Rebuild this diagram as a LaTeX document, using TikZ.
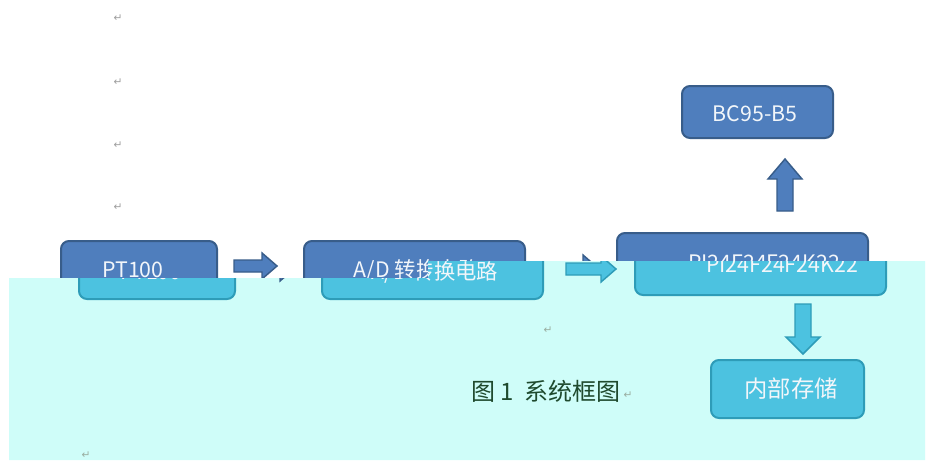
\documentclass[tikz,border=0pt]{standalone}
\usepackage{fontspec}
\setmainfont{Noto Sans CJK SC}
\newfontfamily\symf{DejaVu Sans}
\usetikzlibrary{calc}
\definecolor{ublue}{HTML}{4F7EBD}
\definecolor{ubord}{HTML}{385D8A}
\definecolor{lcyan}{HTML}{4CC2E0}
\definecolor{lbord}{HTML}{2E9CB8}
\definecolor{bgcyan}{HTML}{CFFDF9}
\definecolor{captc}{HTML}{1F4A2E}
\definecolor{txtw}{HTML}{F2F6FA}
\tikzset{
  ubox/.style={draw=ubord, fill=ublue, line width=1.5pt, rounded corners=6pt, inner sep=0pt},
  lbox/.style={draw=lbord, fill=lcyan, line width=1.5pt, rounded corners=6pt, inner sep=0pt},
  btxt/.style={text=txtw, font=\fontsize{16}{18}\selectfont, inner sep=0pt},
  bigtxt/.style={text=txtw, font=\fontsize{17.5}{20}\selectfont, inner sep=0pt},
  captxt/.style={text=captc, font=\fontsize{18}{20}\selectfont, inner sep=0pt},
  uarr/.style={draw=ubord, fill=ublue, line width=1.1pt, line join=miter},
  larr/.style={draw=lbord, fill=lcyan, line width=1.1pt, line join=miter},
  retmark/.style={text=gray!75, font=\symf\fontsize{8}{8}\selectfont, inner sep=0pt},
  retmarkc/.style={text=captc!45, font=\symf\fontsize{8}{8}\selectfont, inner sep=0pt}
}
% right block arrow: style, tail, tip
\newcommand\rblk[3]{\draw[#1] let \p1=(#2),\p2=(#3) in
  (\x1,\y1+4.5pt) -- (\x2-11.25pt,\y1+4.5pt) -- (\x2-11.25pt,\y1+9.75pt) -- (\x2,\y1)
  -- (\x2-11.25pt,\y1-9.75pt) -- (\x2-11.25pt,\y1-4.5pt) -- (\x1,\y1-4.5pt) -- cycle;}
% up block arrow
\newcommand\ublk[3]{\draw[#1] let \p1=(#2),\p2=(#3) in
  (\x1-6pt,\y1) -- (\x1-6pt,\y2-15pt) -- (\x1-12.75pt,\y2-15pt) -- (\x1,\y2)
  -- (\x1+12.75pt,\y2-15pt) -- (\x1+6pt,\y2-15pt) -- (\x1+6pt,\y1) -- cycle;}
% down block arrow
\newcommand\dblk[3]{\draw[#1] let \p1=(#2),\p2=(#3) in
  (\x1-6pt,\y1) -- (\x1-6pt,\y2+12.75pt) -- (\x1-12.75pt,\y2+12.75pt) -- (\x1,\y2)
  -- (\x1+12.75pt,\y2+12.75pt) -- (\x1+6pt,\y2+12.75pt) -- (\x1+6pt,\y1) -- cycle;}
\begin{document}
\begin{tikzpicture}[x=0.75pt,y=-0.75pt]
\useasboundingbox (0,0) rectangle (934,460);
\fill[white] (0,0) rectangle (934,460);

% paragraph marks (upper page)
\node[retmark] (r1) at (118,18) {↵};
\node[retmark] (r2) at (118,82) {↵};
\node[retmark] (r3) at (118,145) {↵};
\node[retmark] (r4) at (118,207) {↵};

% ---------- upper layer ----------
\node[ubox, minimum width=117pt, minimum height=42pt] (up_pt) at (139,269) {};
\node[btxt] (up_pt_t) at (133,270) {PT100};
\node[ubox, minimum width=165.75pt, minimum height=42pt] (up_ad) at (414.5,269) {};
\node[btxt] (up_ad_t) at (417,270) {A/D 转换电路};
\node[ubox, minimum width=188.25pt, minimum height=45pt] (up_pic) at (742.5,263) {};
\node[btxt] (up_pic_t) at (764,263) {PI24F24F24K22};
\node[ubox, minimum width=113.25pt, minimum height=39pt] (bc95) at (757.5,112) {};
\node[btxt] (bc95_t) at (755,114) {BC95-B5};

\rblk{uarr}{$(up_pt.east)+(16,-3)$}{$(up_ad.west)+(-26,-3)$}
\rblk{uarr}{$(up_ad.east)+(22,-1)$}{$(up_pic.west)+(-18,5)$}
\ublk{uarr}{$(up_pic.north)+(42.5,-21)$}{$(bc95.south)+(27.5,20)$}

% ---------- overlay region ----------
\fill[bgcyan] (9,278) -- (428,278) -- (428,261) -- (925,261) -- (925,460) -- (9,460) -- cycle;

\begin{scope}
\clip (9,278) -- (428,278) -- (428,261) -- (925,261) -- (925,460) -- (9,460) -- cycle;
\node[lbox, minimum width=117pt, minimum height=42pt] (lo_pt) at (157,271) {};
\node[btxt] (lo_pt_t) at (151,272) {PT100};
\node[lbox, minimum width=165.75pt, minimum height=42pt] (lo_ad) at (432.5,271) {};
\node[btxt] (lo_ad_t) at (435,272) {A/D 转换电路};
\node[lbox, minimum width=188.25pt, minimum height=45pt] (lo_pic) at (760.5,265) {};
\node[btxt] (lo_pic_t) at (782,265) {PI24F24F24K22};
\rblk{uarr}{$(lo_pt.east)+(16,-3)$}{$(lo_ad.west)+(-26,-3)$}
\rblk{larr}{$(lo_ad.east)+(22,-2)$}{$(lo_pic.west)+(-18,4)$}
\end{scope}

\node[lbox, minimum width=114.75pt, minimum height=43.5pt] (store) at (787.5,389) {};
\node[bigtxt] (store_t) at (791,389) {内部存储};
\dblk{larr}{$(lo_pic.south)+(42.5,8)$}{$(store.north)+(15.5,-5)$}

\node[captxt] (cap) at (546,391) {图 1\ \ 系统框图};
\node[retmarkc] (r5) at (628,395) {↵};
\node[retmarkc] (r6) at (548,330) {↵};
\node[retmarkc] (r7) at (86,455) {↵};
\end{tikzpicture}
\end{document}
